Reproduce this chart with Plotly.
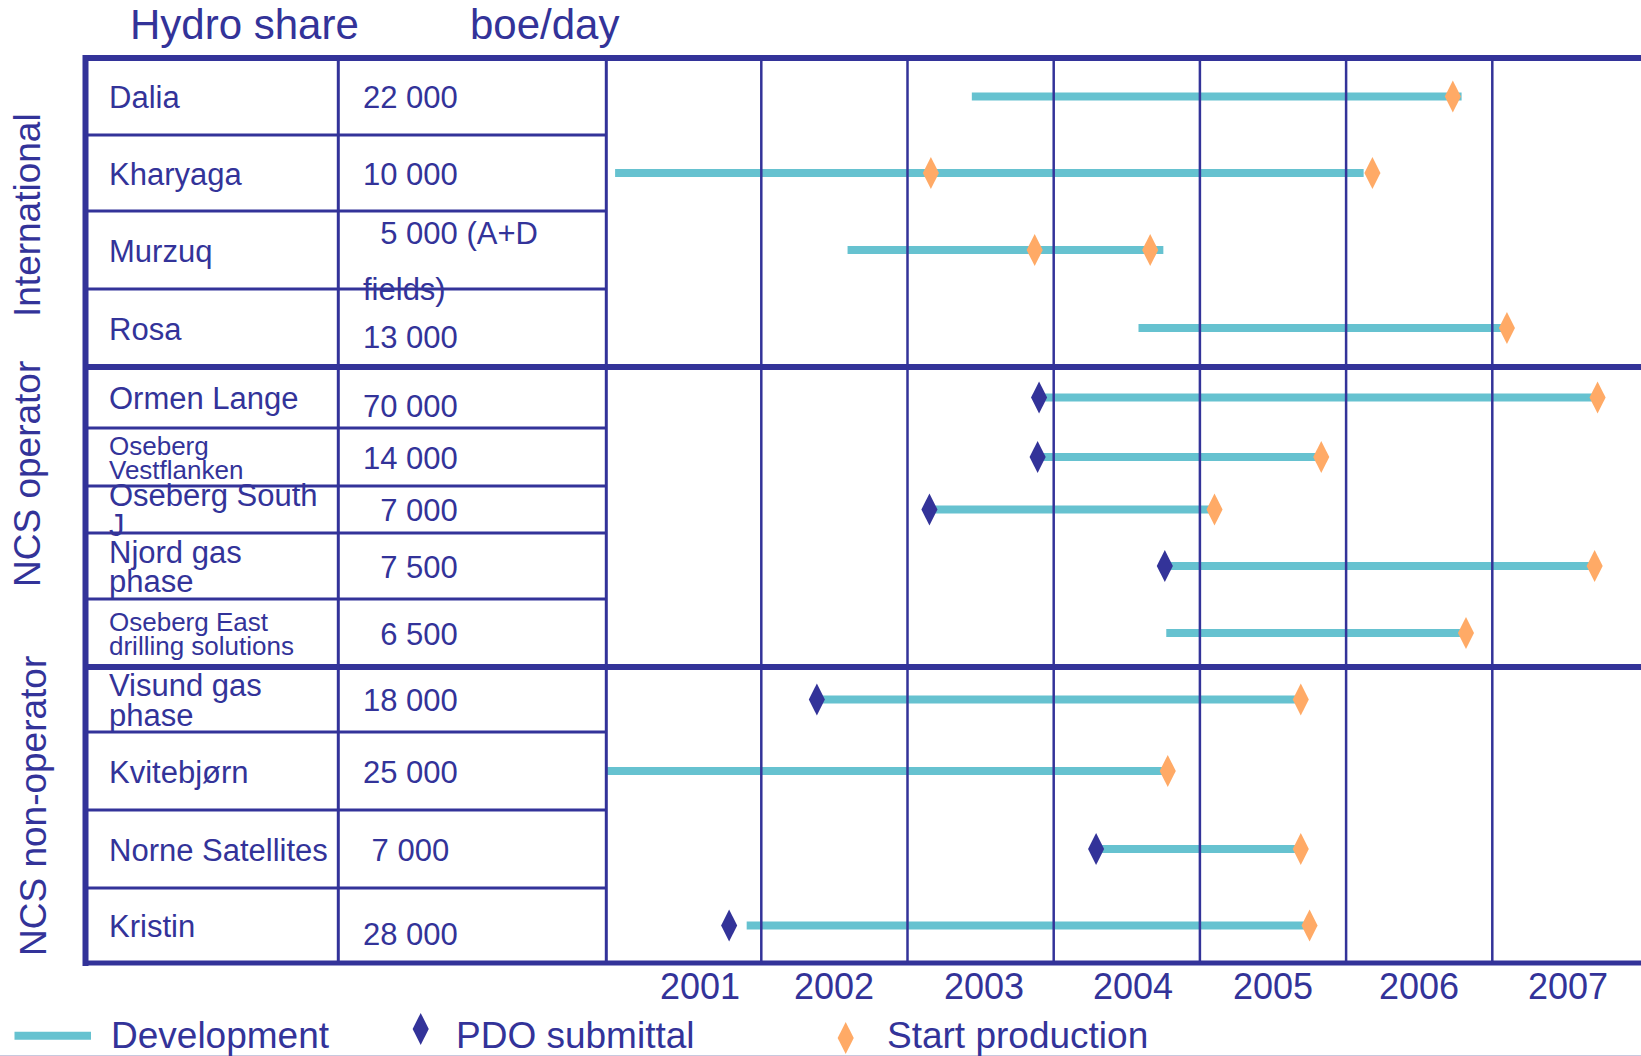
import plotly.graph_objects as go

W, H = 1641, 1056
NAVY = "#333399"
TEAL = "#66C2D0"
ORANGE = "#FFAA66"
FONT = "Liberation Sans, Arial, Helvetica, sans-serif"

# ---------------- chart data ----------------
HEADERS = ["Hydro share", "boe/day"]
GROUPS = ["International", "NCS operator", "NCS non-operator"]
GROUP_ROWS = [4, 5, 4]
PROJECTS = [
    "Dalia", "Kharyaga", "Murzuq", "Rosa",
    "Ormen Lange", "Oseberg\nVestflanken", "Oseberg South\nJ", "Njord gas\nphase",
    "Oseberg East\ndrilling solutions",
    "Visund gas\nphase", "Kvitebjørn", "Norne Satellites", "Kristin",
]
BOE_PER_DAY = [
    "22 000", "10 000", "\u00a0\u00a05 000 (A+D\nfields)", "13 000",
    "70 000", "14 000", "\u00a0\u00a07 000", "\u00a0\u00a07 500", "\u00a0\u00a06 500",
    "18 000", "25 000", "\u00a07 000", "28 000",
]
# development period (decimal years)
DEV_START = [2003.44, 2001.00, 2002.59, 2004.58,
             2003.90, 2003.89, 2003.15, 2004.76, 2004.77,
             2002.38, 2000.94, 2004.29, 2001.90]
DEV_END = [2006.79, 2006.12, 2004.75, 2007.08,
           2007.70, 2005.80, 2005.08, 2007.68, 2006.80,
           2005.67, 2004.76, 2005.67, 2005.73]
PDO_SUBMITTAL = [None, None, None, None,
                 2003.90, 2003.89, 2003.15, 2004.76, None,
                 2002.38, None, 2004.29, 2001.78]
START_PRODUCTION = [[2006.73], [2003.16, 2006.18], [2003.87, 2004.66], [2007.10],
                    [2007.72], [2005.83], [2005.10], [2007.70], [2006.82],
                    [2005.69], [2004.78], [2005.69], [2005.75]]
YEARS = [2001, 2002, 2003, 2004, 2005, 2006, 2007]
LEGEND = ["Development", "PDO submittal", "Start production"]

# ---------------- page geometry (px) ----------------
ROW_EDGES = [58, 135, 211, 289, 367, 428, 486, 533, 599, 667, 732, 810, 888, 963]
TABLE_LEFT, COL_SPLIT, GANTT_LEFT = 85.5, 338.3, 606.3
NAME_X, VALUE_X = 107, 361
NAME_SIZES = [31, 31, 31, 31, 31, 26, 31, 31, 26, 31, 31, 31, 31]
VALUE_DY = [0, 0, 10, 8, 8, 0, 0, 0, 0, 0, 0, 0, 8]
GROUP_LABEL_POS = [(27, 215), (27, 474), (33, 806)]
HEADER_X = [128, 468]
LEGEND_TEXT_X = [109, 454, 885]
YEAR_LABEL_SHIFT = [0.08, 0, 0.02, 0.04, 0, 0, 0.02]

# time scale: start of 2001 at 615.1 px, 146.2 px per year
PX_2001, PX_PER_YEAR = 615.1, 146.2
x_range = [2001 + (0 - PX_2001) / PX_PER_YEAR, 2001 + (W - PX_2001) / PX_PER_YEAR]

centers = [(a + b) / 2 for a, b in zip(ROW_EDGES[:-1], ROW_EDGES[1:])]
group_breaks = [0]
for n in GROUP_ROWS:
    group_breaks.append(group_breaks[-1] + n)

DIAMOND = dict(symbol="diamond-tall", size=23)


def px(x):
    return x / W


fig = go.Figure()

# development bars
bx, by = [], []
for s, e, c in zip(DEV_START, DEV_END, centers):
    bx += [s, e, None]
    by += [c, c, None]
fig.add_trace(go.Scatter(x=bx, y=by, mode="lines", name=LEGEND[0],
                         line=dict(color=TEAL, width=8), hoverinfo="skip"))

# PDO submittal
pdo_x = [p for p in PDO_SUBMITTAL if p is not None]
pdo_y = [c for p, c in zip(PDO_SUBMITTAL, centers) if p is not None]
fig.add_trace(go.Scatter(x=pdo_x, y=pdo_y, mode="markers", name=LEGEND[1],
                         marker=dict(DIAMOND, color=NAVY)))

# start of production
sp_x, sp_y = [], []
for dates, c in zip(START_PRODUCTION, centers):
    for d in dates:
        sp_x.append(d)
        sp_y.append(c)
fig.add_trace(go.Scatter(x=sp_x, y=sp_y, mode="markers", name=LEGEND[2],
                         marker=dict(DIAMOND, color=ORANGE)))

# legend keys (drawn on a pixel overlay axis)
fig.add_trace(go.Scatter(x=[420.7], y=[1029], xaxis="x2", mode="markers",
                         marker=dict(DIAMOND, color=NAVY), hoverinfo="skip"))
fig.add_trace(go.Scatter(x=[845.7], y=[1038], xaxis="x2", mode="markers",
                         marker=dict(DIAMOND, color=ORANGE), hoverinfo="skip"))

shapes = []
line_kw = dict(type="line", yref="y", layer="above")
# horizontal table rules
for i, e in enumerate(ROW_EDGES):
    if i in group_breaks:
        shapes.append(dict(line_kw, xref="paper", x0=px(83), x1=1, y0=e, y1=e,
                           line=dict(color=NAVY, width=6 if i < len(ROW_EDGES) - 1 else 5)))
    else:
        shapes.append(dict(line_kw, xref="paper", x0=px(TABLE_LEFT), x1=px(GANTT_LEFT),
                           y0=e, y1=e, line=dict(color=NAVY, width=3)))
# left border
shapes.append(dict(line_kw, xref="paper", x0=px(TABLE_LEFT), x1=px(TABLE_LEFT),
                   y0=55, y1=966, line=dict(color=NAVY, width=6)))
# column separators
for cx in (COL_SPLIT, GANTT_LEFT):
    shapes.append(dict(line_kw, xref="paper", x0=px(cx), x1=px(cx),
                       y0=ROW_EDGES[0], y1=ROW_EDGES[-1], line=dict(color=NAVY, width=3)))
# year boundaries
for yr in YEARS[1:]:
    shapes.append(dict(line_kw, xref="x", x0=yr, x1=yr,
                       y0=ROW_EDGES[0], y1=ROW_EDGES[-1], line=dict(color=NAVY, width=2.5)))
# legend line key
shapes.append(dict(line_kw, xref="paper", x0=px(14.5), x1=px(91), y0=1035.7, y1=1035.7,
                   line=dict(color=TEAL, width=8)))
# page foot rule
shapes.append(dict(line_kw, xref="paper", x0=0, x1=1, y0=1055.5, y1=1055.5,
                   line=dict(color="#C8C8DE", width=1)))

ann = []


def text(x, y, s, size, xref="paper", xanchor="left", angle=0):
    ann.append(dict(x=x, y=y, xref=xref, yref="y", text=s, showarrow=False,
                    xanchor=xanchor, yanchor="middle", textangle=angle,
                    font=dict(family=FONT, size=size, color=NAVY)))


# column headers
for hx, h in zip(HEADER_X, HEADERS):
    text(px(hx), 24.7, h, 42)

# group labels
for (gx, gy), g in zip(GROUP_LABEL_POS, GROUPS):
    text(px(gx), gy, g, 37, xanchor="center", angle=-90)

# project names and volumes
for name, val, c, sz, dy in zip(PROJECTS, BOE_PER_DAY, centers, NAME_SIZES, VALUE_DY):
    lines = name.split("\n")
    gap = 0.95 * sz
    for k, ln in enumerate(lines):
        text(px(NAME_X), c + 1 + (k - (len(lines) - 1) / 2) * gap, ln, sz)
    vlines = val.split("\n")
    vgap = 56
    for k, ln in enumerate(vlines):
        text(px(VALUE_X), c + 1 + dy + (k - (len(vlines) - 1) / 2) * vgap, ln, 31)

# year labels
for yr, sh in zip(YEARS, YEAR_LABEL_SHIFT):
    text(yr + 0.5 + sh, 986, str(yr), 36, xref="x", xanchor="center")

# legend labels
for lx, lab in zip(LEGEND_TEXT_X, LEGEND):
    text(px(lx), 1035, lab, 37)

fig.update_layout(
    width=W, height=H, autosize=False,
    margin=dict(l=0, r=0, t=0, b=0, pad=0),
    paper_bgcolor="white", plot_bgcolor="white",
    showlegend=False,
    xaxis=dict(range=x_range, domain=[0, 1], visible=False, fixedrange=True),
    xaxis2=dict(range=[0, W], overlaying="x", anchor="y", visible=False, fixedrange=True),
    yaxis=dict(range=[H, 0], domain=[0, 1], visible=False, fixedrange=True),
    shapes=shapes,
    annotations=ann,
)

fig.write_html("out.html", config={"displayModeBar": False})
